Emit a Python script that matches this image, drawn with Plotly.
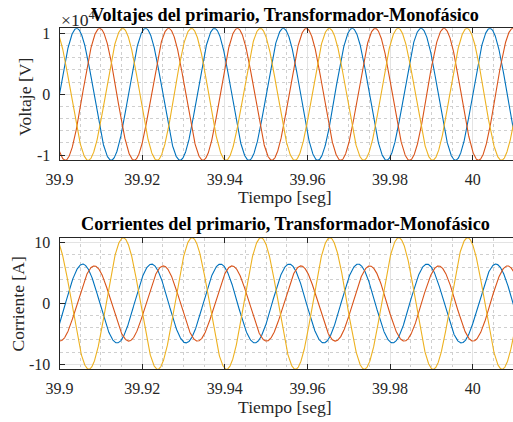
import numpy as np
import plotly.graph_objects as go

# ---- data ----
freq_hz = 60.0
t_start, t_stop = 39.9, 40.01
phase_names = ["Fase A", "Fase B", "Fase C"]
volt_amp = [1.085e4, 1.085e4, 1.085e4]          # V (peak)
volt_phase_deg = [0.0, -120.0, 120.0]            # degrees at t = 39.9 s
curr_amp = [6.5, 6.2, 10.85]                     # A (peak)
curr_phase_deg = [-31.0, -92.0, 116.7]           # degrees at t = 39.9 s
colors = ["#0072BD", "#D95319", "#EDB120"]

x_ticks = [39.9, 39.92, 39.94, 39.96, 39.98, 40.0]
x_ticktext = ["39.9", "39.92", "39.94", "39.96", "39.98", "40"]
v_ticks = [-1e4, 0, 1e4]
v_ticktext = ["-1", "0", "1"]
i_ticks = [-10, 0, 10]
i_ticktext = ["-10", "0", "10"]

t = np.linspace(t_start, t_stop, 2000)
w = 2 * np.pi * freq_hz

fig = go.Figure()
for k in range(3):
    v = volt_amp[k] * np.sin(w * (t - t_start) + np.deg2rad(volt_phase_deg[k]))
    fig.add_trace(go.Scatter(x=t, y=v, mode="lines", name=phase_names[k],
                             line=dict(color=colors[k], width=1.1),
                             xaxis="x", yaxis="y", showlegend=False))
for k in range(3):
    c = curr_amp[k] * np.sin(w * (t - t_start) + np.deg2rad(curr_phase_deg[k]))
    fig.add_trace(go.Scatter(x=t, y=c, mode="lines", name=phase_names[k],
                             line=dict(color=colors[k], width=1.1),
                             xaxis="x2", yaxis="y2", showlegend=False))

W, H = 513, 422
FONT = "Liberation Serif, Times New Roman, serif"
AX = "#262626"
left_px, right_px = 59.5, 513.0
xdom = [left_px / W, 1.0]
x_range = [39.9, 39.9 + (right_px - left_px) / 4132.0]
v_lim = max(volt_amp)
i_lim = 10.85


def ydom(top, bot):
    return [1 - bot / H, 1 - top / H]


common_x = dict(range=x_range, domain=xdom, tickvals=x_ticks, ticktext=x_ticktext,
                automargin=False, ticklabelstandoff=4,
                showline=True, linecolor=AX, linewidth=1, mirror="ticks",
                ticks="inside", ticklen=5, tickcolor=AX, tickwidth=1,
                showgrid=True, gridcolor="#e3e3e3", gridwidth=1, zeroline=False,
                tickfont=dict(family=FONT, size=16, color=AX),
                minor=dict(dtick=0.005, tick0=39.9, showgrid=True,
                           gridcolor="#cfcfcf", griddash="dot", gridwidth=1))
common_y = dict(showline=True, linecolor=AX, linewidth=1, mirror=False,
                automargin=False,
                ticks="inside", ticklen=5, tickcolor=AX, tickwidth=1,
                showgrid=True, gridcolor="#e3e3e3", gridwidth=1, zeroline=False,
                ticklabelstandoff=5,
                tickfont=dict(family=FONT, size=16, color=AX))
right_y = dict(side="right", showline=False, ticks="inside", ticklen=5,
               automargin=False,
               tickcolor=AX, tickwidth=1, showticklabels=False, showgrid=False,
               zeroline=False)

fig.update_layout(
    template="none",
    width=W, height=H, margin=dict(l=0, r=0, t=0, b=0, autoexpand=False),
    paper_bgcolor="white", plot_bgcolor="white", showlegend=False,
    xaxis=dict(anchor="y", **common_x),
    yaxis=dict(anchor="x", domain=ydom(28.3, 160.3), range=[-v_lim, v_lim],
               tickvals=v_ticks, ticktext=v_ticktext,
               minor=dict(dtick=2000, tick0=0, showgrid=True, gridcolor="#cfcfcf",
                          griddash="dot", gridwidth=1),
               **common_y),
    yaxis3=dict(overlaying="y", anchor="x", range=[-v_lim, v_lim],
                tickvals=v_ticks, **right_y),
    xaxis2=dict(anchor="y2", **common_x),
    yaxis2=dict(anchor="x2", domain=ydom(237.7, 369.3), range=[-i_lim, i_lim],
                tickvals=i_ticks, ticktext=i_ticktext,
                minor=dict(dtick=2, tick0=0, showgrid=True, gridcolor="#cfcfcf",
                           griddash="dot", gridwidth=1),
                **common_y),
    yaxis4=dict(overlaying="y2", anchor="x2", range=[-i_lim, i_lim],
                tickvals=i_ticks, **right_y),
)


def ann(text, x, y, size, bold=False, angle=0, xanchor="center"):
    fig.add_annotation(text=("<b>%s</b>" % text) if bold else text,
                       x=x / W, y=1 - y / H, xref="paper", yref="paper",
                       xanchor=xanchor, yanchor="middle", showarrow=False,
                       textangle=angle,
                       font=dict(family=FONT, size=size, color="black" if bold else AX))


ann("×10<sup>4</sup>", 59, 19, 17.6, xanchor="left")
ann("Voltajes del primario, Transformador-Monofásico", 285, 15, 18.2, bold=True)
ann("Tiempo [seg]", 285, 197, 17.6)
ann("Voltaje [V]", 25, 97, 17.6, angle=-90)
ann("Corrientes del primario, Transformador-Monofásico", 285, 224, 18.2, bold=True)
ann("Tiempo [seg]", 285, 407, 17.6)
ann("Corriente [A]", 17.5, 304, 17.6, angle=-90)

fig.write_html("out.html", config={"displayModeBar": False},
               post_script="document.body.style.margin='0';document.body.style.overflow='hidden';")
